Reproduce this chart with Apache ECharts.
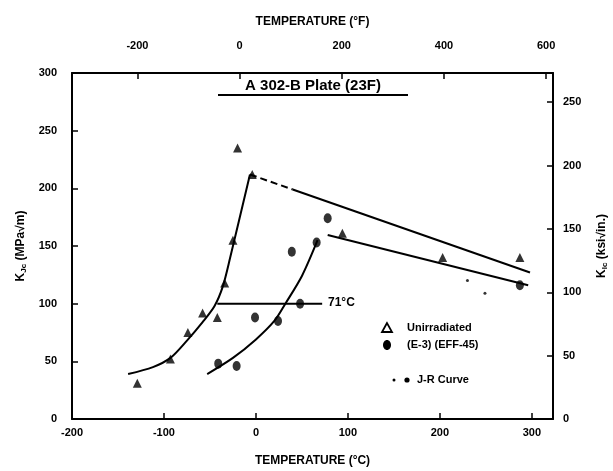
<!DOCTYPE html>
<html>
<head>
<meta charset="utf-8">
<title>A 302-B Plate</title>
<script src="https://cdn.jsdelivr.net/npm/echarts@6/dist/echarts.min.js"></script>
<style>
    html, body {
        margin: 0;
        padding: 0;
        background: #fff;
    }

    #myChart {
        width: 613px;
        height: 471px;
    }
</style>
</head>
<body>
<div id="myChart"></div>
<script>
    // temperature in degC, K in MPa*sqrt(m)
    var unirradiated = [[-129, 31], [-93, 52], [-74, 75], [-58, 92], [-42, 88], [-34, 118], [-25, 155], [-20, 235], [-4, 212], [94, 161], [203, 140], [287, 140]];
    var irradiated = [[-41, 48], [-21, 46], [-1, 88], [24, 85], [48, 100], [39, 145], [66, 153], [78, 174], [287, 116]];
    var jrCurve = [[230, 120], [249, 109]];
    var unirrCurve = [[-139, 39], [-112, 45], [-93, 53], [-75, 68], [-58, 84], [-45, 98], [-36, 115], [-28, 140], [-6.5, 212]];
    var unirrShelfDash = [[-6.5, 212], [40, 199]];
    var unirrShelf = [[40, 199], [298, 127]];
    var irrCurve = [[-53, 39], [-25, 53], [0, 69], [20, 85], [32, 100], [50, 124], [67, 155]];
    var irrShelf = [[78, 159.5], [296, 116]];
    var shiftLine = [[-42, 100], [72, 100]];

    var cTicks = [-200, -100, 0, 100, 200, 300];
    var fTicks = [-200, 0, 200, 400, 600];
    var mpaTicks = [0, 50, 100, 150, 200, 250, 300];
    var ksiTicks = [0, 50, 100, 150, 200, 250];

    var cMin = -200, cMax = 323;
    var kMax = 300;
    function cToF(c) { return c * 1.8 + 32 }
    var KSI = 1.0988; // MPa*sqrt(m) per ksi*sqrt(in)

    var font = 'Liberation Sans';
    var labelStyle = { color: '#000', fontFamily: font, fontWeight: 'bold', fontSize: 11 };
    var nameStyle = {
        color: '#000', fontFamily: font, fontWeight: 'bold', fontSize: 12,
        rich: { sub: { color: '#000', fontFamily: font, fontWeight: 'bold', fontSize: 8, verticalAlign: 'bottom', padding: [6, 0, 0, 0] } }
    };
    var lineAx = { onZero: false, lineStyle: { color: '#000', width: 2 } };
    var tickStyle = { color: '#000', width: 1.5 };

    function lineSeries(data, smooth, type) {
        return {
            type: 'line', data: data, smooth: smooth, showSymbol: false, symbol: 'none',
            lineStyle: { color: '#000', width: 2, type: type || 'solid' }, z: 2
        }
    }

    var myChart = echarts.init(document.getElementById('myChart'));
    var option = {
        animation: false,
        backgroundColor: '#fff',
        grid: { left: 72, right: 60, top: 73, bottom: 52, outerBoundsMode: 'none', containLabel: false },
        xAxis: [{
            type: 'value', position: 'bottom', min: cMin, max: cMax,
            name: 'TEMPERATURE (°C)', nameLocation: 'middle', nameGap: 36, nameTextStyle: nameStyle,
            axisLine: lineAx,
            axisTick: { inside: true, length: 6, customValues: cTicks, lineStyle: tickStyle },
            axisLabel: Object.assign({ customValues: cTicks, margin: 8 }, labelStyle),
            splitLine: { show: false }
        }, {
            type: 'value', position: 'top', min: cToF(cMin), max: cToF(cMax),
            name: 'TEMPERATURE (°F)', nameLocation: 'middle', nameGap: 45, nameTextStyle: nameStyle,
            axisLine: lineAx,
            axisTick: { inside: true, length: 6, customValues: fTicks, lineStyle: tickStyle },
            axisLabel: Object.assign({ customValues: fTicks, margin: 22 }, labelStyle),
            splitLine: { show: false }
        }],
        yAxis: [{
            type: 'value', position: 'left', min: 0, max: kMax,
            name: 'K{sub|Jc} (MPa√m)', nameLocation: 'middle', nameGap: 41, nameTextStyle: nameStyle,
            axisLine: lineAx,
            axisTick: { inside: true, length: 6, customValues: mpaTicks, lineStyle: tickStyle },
            axisLabel: Object.assign({ customValues: mpaTicks, margin: 15 }, labelStyle),
            splitLine: { show: false }
        }, {
            type: 'value', position: 'right', min: 0, max: kMax / KSI,
            name: 'K{sub|Ic} (ksi√in.)', nameLocation: 'middle', nameGap: 42, nameTextStyle: nameStyle,
            axisLine: lineAx,
            axisTick: { inside: true, length: 6, customValues: ksiTicks, lineStyle: tickStyle },
            axisLabel: Object.assign({ customValues: ksiTicks, margin: 10 }, labelStyle),
            splitLine: { show: false }
        }],
        graphic: [
            { type: 'text', x: 313, y: 78, style: { text: 'A 302-B Plate (23F)', fill: '#000', font: 'bold 15px "Liberation Sans"', textAlign: 'center' } },
            { type: 'line', shape: { x1: 218, y1: 95, x2: 408, y2: 95 }, style: { stroke: '#000', lineWidth: 2 } },
            { type: 'text', x: 328, y: 303, style: { text: '71°C', fill: '#000', font: 'bold 12px "Liberation Sans"', textVerticalAlign: 'middle' } },
            { type: 'polygon', shape: { points: [[387, 323], [382, 332], [392, 332]] }, style: { fill: '#fff', stroke: '#000', lineWidth: 1.8 } },
            { type: 'text', x: 407, y: 328, style: { text: 'Unirradiated', fill: '#000', font: 'bold 11px "Liberation Sans"', textVerticalAlign: 'middle' } },
            { type: 'ellipse', shape: { cx: 387, cy: 345, rx: 4, ry: 5 }, style: { fill: '#000' } },
            { type: 'text', x: 407, y: 345, style: { text: '(E-3) (EFF-45)', fill: '#000', font: 'bold 11px "Liberation Sans"', textVerticalAlign: 'middle' } },
            { type: 'circle', shape: { cx: 394, cy: 380, r: 1.5 }, style: { fill: '#000' } },
            { type: 'circle', shape: { cx: 407, cy: 380, r: 2.6 }, style: { fill: '#000' } },
            { type: 'text', x: 417, y: 380, style: { text: 'J-R Curve', fill: '#000', font: 'bold 11px "Liberation Sans"', textVerticalAlign: 'middle' } }
        ],
        series: [
            lineSeries(unirrCurve, 0.3),
            lineSeries(unirrShelfDash, false, [7, 4]),
            lineSeries(unirrShelf, false),
            lineSeries(irrCurve, 0.3),
            lineSeries(irrShelf, false),
            lineSeries(shiftLine, false),
            {
                name: 'Unirradiated', type: 'scatter', data: unirradiated,
                symbol: 'triangle', symbolSize: 9, itemStyle: { color: '#000' }, z: 3
            },
            {
                name: '(E-3) (EFF-45)', type: 'scatter', data: irradiated,
                symbol: 'circle', symbolSize: [8, 10], itemStyle: { color: '#000' }, z: 3
            },
            {
                name: 'J-R Curve', type: 'scatter', data: jrCurve,
                symbol: 'circle', symbolSize: 3, itemStyle: { color: '#000' }, z: 3
            }
        ]
    };
    myChart.setOption(option);
</script>
</body>
</html>
